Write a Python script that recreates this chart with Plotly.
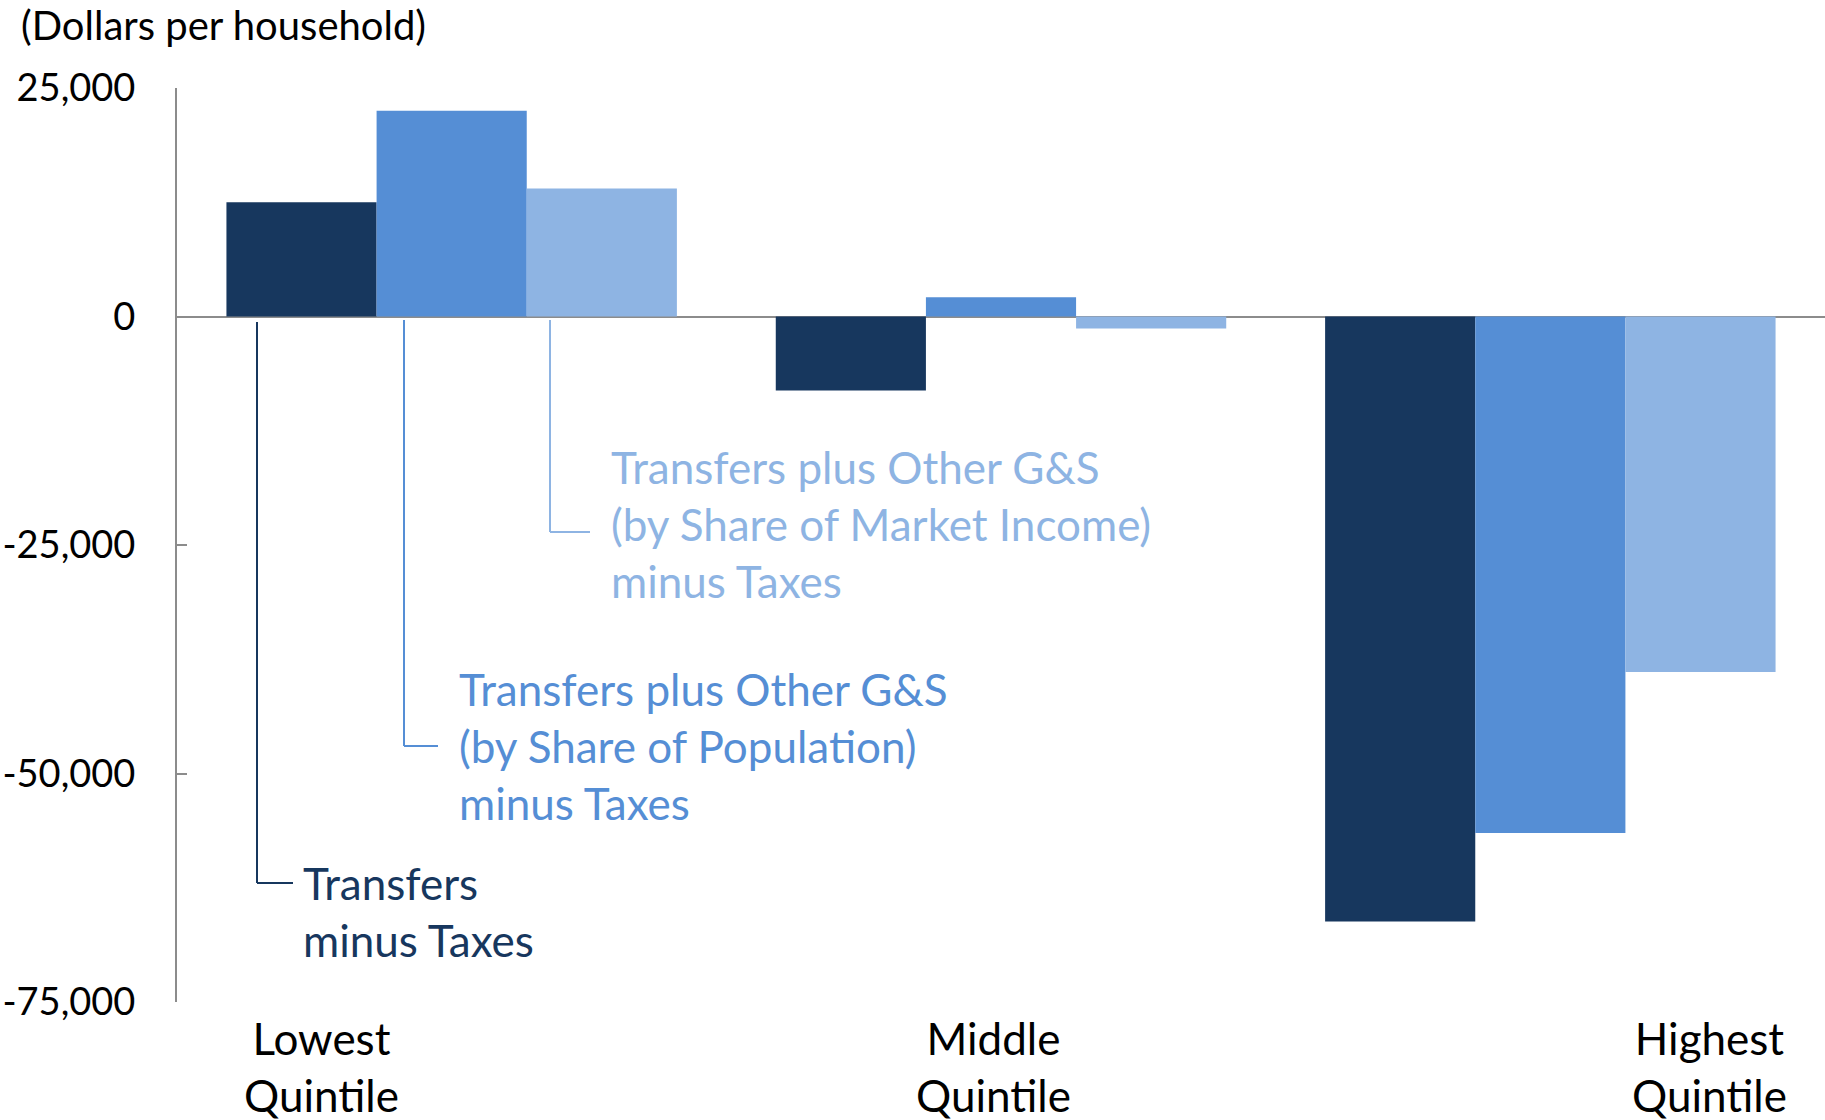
import plotly.graph_objects as go

# ---- data ----
categories = ["Lowest Quintile", "Middle Quintile", "Highest Quintile"]
category_labels = ["Lowest<br>Quintile", "Middle<br>Quintile", "Highest<br>Quintile"]
series_names = [
    "Transfers minus Taxes",
    "Transfers plus Other G&S (by Share of Population) minus Taxes",
    "Transfers plus Other G&S (by Share of Market Income) minus Taxes",
]
transfers_minus_taxes = [12500, -8100, -66200]
by_population = [22500, 2100, -56500]
by_market_income = [14000, -1300, -38900]
y_tickvals = [-75000, -50000, -25000, 0, 25000]
y_ticktext = ["-75,000", "-50,000", "-25,000", "0", "25,000"]
legend_texts = [
    "Transfers<br>minus Taxes",
    "Transfers plus Other G&S<br>(by Share of Population)<br>minus Taxes",
    "Transfers plus Other G&S<br>(by Share of Market Income)<br>minus Taxes",
]
y_title = "(Dollars per household)"

# ---- style ----
colors = ["#17375E", "#558ED5", "#8EB4E3"]
FONT = "Lato"
W, H = 1825, 1120
L, R, T, B = 177, 0, 88, 118
PW, PH = W - L - R, H - T - B


def px(x):
    return (x - L) / PW


def py(y):
    return (H - B - y) / PH


fig = go.Figure()
for name, vals, c in zip(series_names, [transfers_minus_taxes, by_population, by_market_income], colors):
    fig.add_trace(go.Bar(x=categories, y=vals, name=name, marker=dict(color=c, line=dict(width=0))))

# connectors (pixel positions): x vertical, y top, y bottom, x end
connectors = [
    (257, 322, 883, 293),
    (404, 320, 746, 438),
    (550, 320, 532, 590),
]
shapes = []
for (x0, ytop, ybot, x1), c in zip(connectors, colors):
    shapes.append(dict(type="line", xref="paper", yref="paper", x0=px(x0), x1=px(x0),
                       y0=py(ytop), y1=py(ybot), line=dict(color=c, width=2)))
    shapes.append(dict(type="line", xref="paper", yref="paper", x0=px(x0), x1=px(x1),
                       y0=py(ybot), y1=py(ybot), line=dict(color=c, width=2)))

annotations = []
label_pos = [(301, 911), (457, 746), (609, 524)]
for txt, (x, y), c in zip(legend_texts, label_pos, colors):
    annotations.append(dict(text=txt, xref="paper", yref="paper", x=px(x), y=py(y),
                            xanchor="left", yanchor="middle", align="left", showarrow=False,
                            font=dict(family=FONT, size=44, color=c)))

cat_pos = [321, 993, 1709]
for txt, x in zip(category_labels, cat_pos):
    annotations.append(dict(text=txt, xref="paper", yref="paper", x=px(x), y=py(1066),
                            xanchor="center", yanchor="middle", align="center", showarrow=False,
                            font=dict(family=FONT, size=44, color="black")))

annotations.append(dict(text=y_title, xref="paper", yref="paper", x=px(19), y=py(25),
                        xanchor="left", yanchor="middle", showarrow=False,
                        font=dict(family=FONT, size=40, color="black")))

fig.update_layout(
    width=W, height=H,
    margin=dict(l=L, r=R, t=T, b=B),
    paper_bgcolor="white", plot_bgcolor="white",
    barmode="group", bargap=0.18, bargroupgap=0,
    showlegend=False,
    shapes=shapes, annotations=annotations,
    font=dict(family=FONT, color="black"),
)
fig.update_xaxes(showticklabels=False, showgrid=False, showline=False, zeroline=False,
                 range=[-0.5, 2.5], ticks="")
fig.update_yaxes(range=[-75000, 25000], tickvals=y_tickvals, ticktext=y_ticktext,
                 showgrid=False, showline=True, linecolor="#8C8C8C", linewidth=2,
                 ticks="inside", ticklen=10, tickwidth=2, tickcolor="#8C8C8C",
                 zeroline=True, zerolinecolor="#8C8C8C", zerolinewidth=2,
                 ticklabelstandoff=32, tickfont=dict(family=FONT, size=38, color="black"))

fig.write_html("out.html",
               config={"displayModeBar": False},
               post_script="document.body.style.margin='0';document.body.style.overflow='hidden';")
